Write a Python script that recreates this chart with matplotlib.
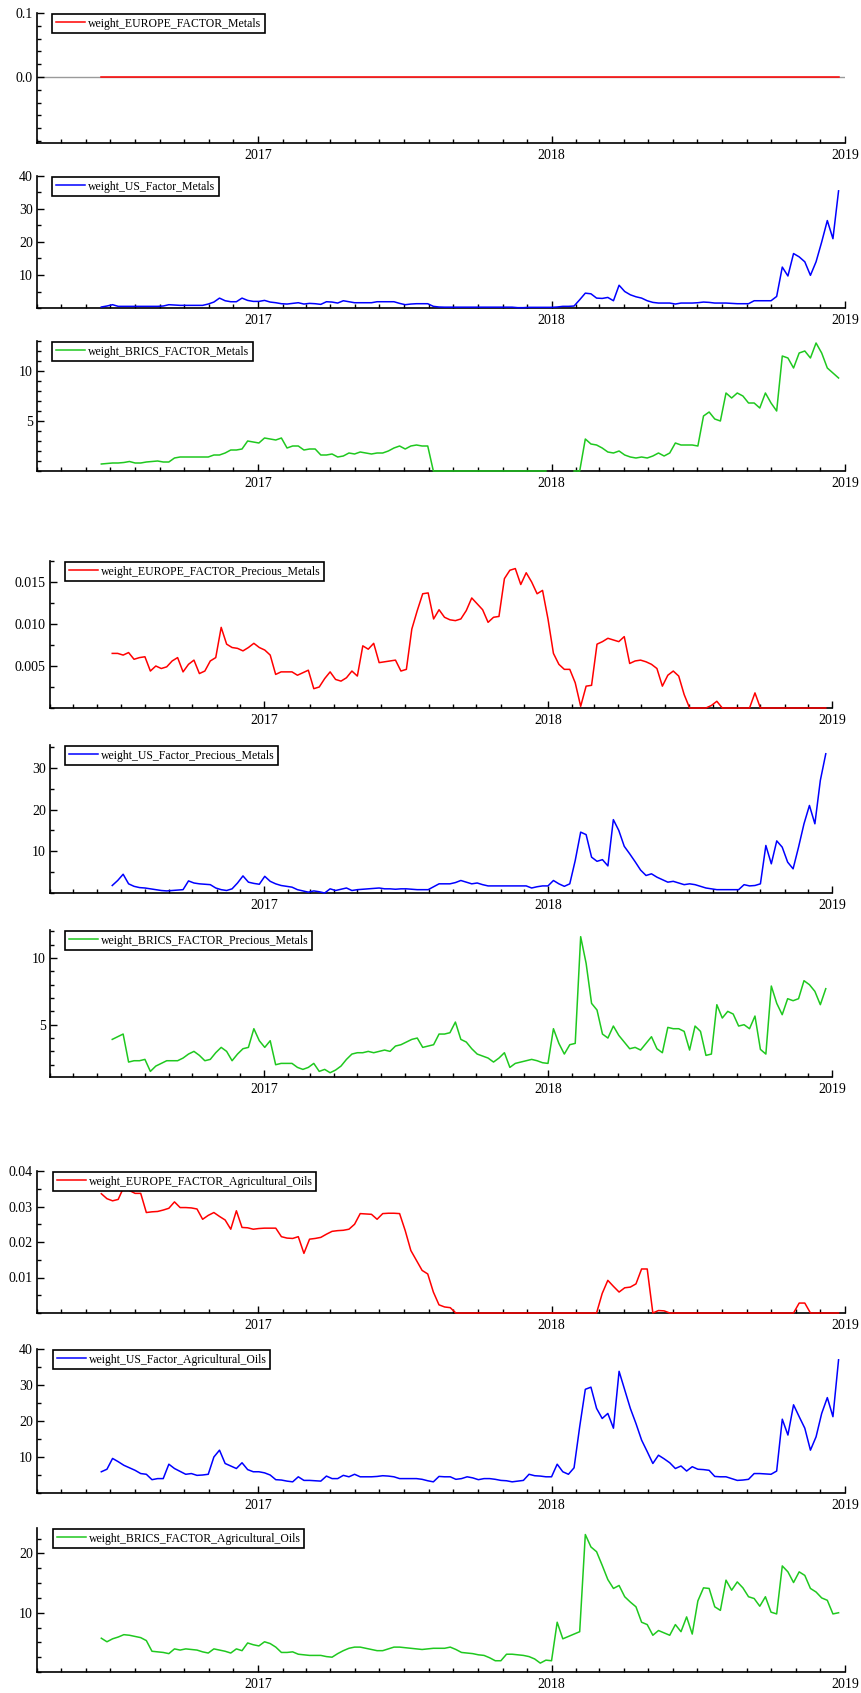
import numpy as np
import pandas as pd
import matplotlib
matplotlib.use("Agg")
import matplotlib.pyplot as plt
import matplotlib.dates as mdates
from matplotlib.ticker import MultipleLocator, FixedLocator, FormatStrFormatter

plt.rcParams['font.family'] = ['Liberation Serif', 'DejaVu Serif']

# ---------------- data (weekly) ----------------
START_DATE = '2016-06-20'
N_WEEKS = 132

weight_EUROPE_FACTOR_Metals = [0.0] * 132

weight_US_Factor_Metals = [
    0.3, 0.6, 1.0, 0.5, 0.5, 0.5, 0.5, 0.5, 0.5, 0.5,
    0.5, 0.6, 1.0, 0.9, 0.8, 0.8, 0.8, 0.8, 0.8, 1.2,
    1.8, 3.0, 2.2, 1.9, 1.9, 3.0, 2.3, 2.0, 2.0, 2.3,
    1.8, 1.6, 1.3, 1.2, 1.4, 1.6, 1.2, 1.4, 1.3, 1.1,
    1.9, 1.8, 1.5, 2.2, 1.9, 1.6, 1.6, 1.6, 1.6, 1.9,
    1.9, 1.9, 1.9, 1.4, 1.0, 1.2, 1.3, 1.3, 1.3, 0.5,
    0.3, 0.25, 0.25, 0.25, 0.25, 0.25, 0.25, 0.25, 0.25, 0.25,
    0.25, 0.25, 0.25, 0.25, 0.1, 0.1, 0.2, 0.2, 0.2, 0.2,
    0.2, 0.3, 0.5, 0.5, 0.6, 2.5, 4.5, 4.3, 3.0, 2.9,
    3.2, 2.2, 6.9, 5.0, 4.0, 3.4, 3.0, 2.2, 1.7, 1.5,
    1.5, 1.5, 1.2, 1.5, 1.5, 1.5, 1.6, 1.8, 1.7, 1.5,
    1.5, 1.5, 1.4, 1.3, 1.3, 1.3, 2.2, 2.2, 2.2, 2.2,
    3.5, 12.4, 9.7, 16.5, 15.5, 14.0, 9.9, 14.0, 20.0, 26.5,
    21.0, 35.5,
]

weight_BRICS_FACTOR_Metals = [
    0.7, 0.75, 0.8, 0.8, 0.85, 0.95, 0.8, 0.8, 0.9, 0.95,
    1.0, 0.9, 0.9, 1.3, 1.4, 1.4, 1.4, 1.4, 1.4, 1.4,
    1.6, 1.6, 1.8, 2.1, 2.1, 2.2, 3.0, 2.9, 2.8, 3.3,
    3.2, 3.1, 3.3, 2.3, 2.5, 2.5, 2.1, 2.2, 2.2, 1.6,
    1.6, 1.7, 1.4, 1.5, 1.8, 1.7, 1.9, 1.8, 1.7, 1.8,
    1.8, 2.0, 2.3, 2.5, 2.2, 2.5, 2.6, 2.5, 2.5,
] + [0.0] * 21 + [np.nan] * 4 + [
    0.0, 0.0, 3.2, 2.7, 2.6, 2.3, 1.9, 1.8, 2.0, 1.6,
    1.4, 1.3, 1.4, 1.3, 1.5, 1.8, 1.5, 1.8, 2.8, 2.6,
    2.6, 2.6, 2.5, 5.5, 5.9, 5.2, 5.0, 7.8, 7.3, 7.8,
    7.5, 6.8, 6.8, 6.3, 7.8, 6.8, 6.0, 11.5, 11.3, 10.3,
    11.8, 12.0, 11.3, 12.8, 11.8, 10.3, 9.8, 9.3,
]

weight_EUROPE_FACTOR_Precious_Metals = [
    0.0065, 0.0065, 0.0063, 0.0066, 0.0058, 0.0060, 0.0061, 0.0044, 0.0050, 0.0047,
    0.0049, 0.0056, 0.0060, 0.0043, 0.0052, 0.0057, 0.0041, 0.0044, 0.0056, 0.0060,
    0.0096, 0.0076, 0.0072, 0.0071, 0.0068, 0.0072, 0.0077, 0.0072, 0.0069, 0.0063,
    0.0040, 0.0043, 0.0043, 0.0043, 0.0039, 0.0042, 0.0045, 0.0023, 0.0025, 0.0035,
    0.0043, 0.0034, 0.0032, 0.0036, 0.0044, 0.0038, 0.0074, 0.0070, 0.0077, 0.0054,
    0.0055, 0.0056, 0.0057, 0.0044, 0.0046, 0.0094, 0.0116, 0.0136, 0.0137, 0.0106,
    0.0117, 0.0108, 0.0105, 0.0104, 0.0106, 0.0116, 0.0131, 0.0124, 0.0117, 0.0102,
    0.0108, 0.0109, 0.0154, 0.0164, 0.0166, 0.0147, 0.0161, 0.0150, 0.0136, 0.0140,
    0.0106, 0.0065, 0.0052, 0.0046, 0.0046, 0.0030, 0.0002, 0.0026, 0.0027, 0.0076,
    0.0079, 0.0083, 0.0081, 0.0079, 0.0085, 0.0053, 0.0056, 0.0057, 0.0055, 0.0052,
    0.0047, 0.0026, 0.0039, 0.0044, 0.0038, 0.0016, 0.0, 0.0, 0.0, 0.0,
    0.0003, 0.0008, 0.0, 0.0, 0.0, 0.0, 0.0, 0.0, 0.0018, 0.0,
    0.0, 0.0, 0.0, 0.0, 0.0, 0.0, 0.0, 0.0, 0.0, 0.0,
    0.0, 0.0,
]

weight_US_Factor_Precious_Metals = [
    1.8, 3.0, 4.5, 2.2, 1.6, 1.3, 1.2, 1.0, 0.8, 0.6,
    0.5, 0.6, 0.7, 0.8, 2.9, 2.4, 2.2, 2.1, 2.0, 1.2,
    0.8, 0.6, 1.0, 2.4, 4.1, 2.6, 2.3, 2.1, 4.0, 2.8,
    2.2, 1.8, 1.6, 1.4, 0.8, 0.5, 0.2, 0.5, 0.3, 0.0,
    1.0, 0.6, 0.9, 1.2, 0.6, 0.8, 0.9, 1.0, 1.1, 1.2,
    1.0, 1.0, 0.9, 1.0, 1.0, 0.9, 0.8, 0.8, 0.8, 1.5,
    2.2, 2.2, 2.2, 2.5, 3.0, 2.6, 2.2, 2.4, 2.0, 1.7,
    1.7, 1.7, 1.7, 1.7, 1.7, 1.7, 1.7, 1.2, 1.5, 1.7,
    1.7, 3.0, 2.2, 1.6, 2.2, 7.8, 14.6, 14.0, 8.6, 7.6,
    8.0, 6.5, 17.6, 15.0, 11.2, 9.4, 7.5, 5.5, 4.2, 4.6,
    3.8, 3.2, 2.6, 2.8, 2.4, 2.0, 2.2, 2.0, 1.6, 1.2,
    1.0, 0.8, 0.8, 0.8, 0.8, 0.8, 2.0, 1.7, 1.8, 2.2,
    11.4, 7.0, 12.5, 11.0, 7.4, 5.8, 11.0, 16.6, 21.0, 16.6,
    27.0, 33.4,
]

weight_BRICS_FACTOR_Precious_Metals = [
    3.9, 4.1, 4.3, 2.2, 2.3, 2.3, 2.4, 1.5, 1.9, 2.1,
    2.3, 2.3, 2.3, 2.5, 2.8, 3.0, 2.7, 2.3, 2.4, 2.9,
    3.3, 3.0, 2.3, 2.8, 3.2, 3.3, 4.7, 3.8, 3.3, 3.8,
    2.0, 2.1, 2.1, 2.1, 1.8, 1.65, 1.8, 2.1, 1.5, 1.65,
    1.4, 1.6, 1.9, 2.4, 2.8, 2.9, 2.9, 3.0, 2.9, 3.0,
    3.1, 3.0, 3.4, 3.5, 3.7, 3.9, 4.0, 3.3, 3.4, 3.5,
    4.3, 4.3, 4.4, 5.2, 3.9, 3.7, 3.2, 2.8, 2.65, 2.5,
    2.2, 2.5, 2.9, 1.8, 2.1, 2.2, 2.3, 2.4, 2.3, 2.15,
    2.1, 4.7, 3.6, 2.8, 3.5, 3.6, 11.6, 9.6, 6.6, 6.1,
    4.3, 4.0, 4.9, 4.2, 3.7, 3.2, 3.3, 3.1, 3.6, 4.1,
    3.2, 2.9, 4.8, 4.7, 4.7, 4.5, 3.1, 4.9, 4.5, 2.7,
    2.8, 6.5, 5.5, 6.0, 5.8, 4.9, 5.0, 4.7, 5.65, 3.15,
    2.8, 7.9, 6.6, 5.75, 6.95, 6.8, 6.95, 8.3, 8.0, 7.5,
    6.5, 7.7,
]

weight_EUROPE_FACTOR_Agricultural_Oils = [
    0.0336, 0.0322, 0.0316, 0.0320, 0.0355, 0.0345, 0.0337, 0.0337, 0.0283, 0.0285,
    0.0286, 0.0290, 0.0295, 0.0313, 0.0297, 0.0297, 0.0296, 0.0293, 0.0264, 0.0275,
    0.0283, 0.0272, 0.0262, 0.0236, 0.0288, 0.0241, 0.0240, 0.0236, 0.0238, 0.0239,
    0.0239, 0.0239, 0.0215, 0.0211, 0.0210, 0.0215, 0.0168, 0.0208, 0.0210, 0.0213,
    0.0222, 0.0230, 0.0232, 0.0233, 0.0236, 0.0250, 0.0280, 0.0279, 0.0278, 0.0264,
    0.0280, 0.0281, 0.0281, 0.0280, 0.0232, 0.0176, 0.0148, 0.0120, 0.0110, 0.0059,
    0.0023, 0.0017, 0.0015, 0.0,
] + [0.0] * 25 + [
    0.0055, 0.0092, 0.0075, 0.0059, 0.0071, 0.0073, 0.0082, 0.0124, 0.0124, 0.0,
    0.0007, 0.0006,
] + [0.0] * 23 + [0.0028, 0.0028] + [0.0] * 6

weight_US_Factor_Agricultural_Oils = [
    5.9, 6.6, 9.6, 8.7, 7.7, 7.0, 6.3, 5.4, 5.2, 3.7,
    4.0, 4.0, 8.0, 6.8, 6.0, 5.2, 5.4, 4.9, 5.0, 5.2,
    10.0, 11.9, 8.2, 7.5, 6.8, 8.4, 6.5, 5.9, 5.9, 5.6,
    5.0, 3.7, 3.6, 3.3, 3.1, 4.5, 3.5, 3.5, 3.4, 3.3,
    4.7, 4.0, 4.0, 4.9, 4.5, 5.2, 4.5, 4.5, 4.5, 4.6,
    4.8, 4.7, 4.5, 4.0, 4.0, 4.0, 4.0, 3.8, 3.4, 3.1,
    4.6, 4.5, 4.5, 3.8, 4.0, 4.5, 4.2, 3.7, 4.0, 4.0,
    3.8, 3.5, 3.4, 3.1, 3.3, 3.5, 5.2, 4.8, 4.7, 4.5,
    4.5, 8.0, 5.9, 5.2, 7.0, 18.4, 28.8, 29.4, 23.5, 20.7,
    22.1, 18.0, 33.8, 28.7, 23.5, 19.3, 14.7, 11.5, 8.2, 10.5,
    9.5, 8.4, 6.8, 7.5, 6.1, 7.3, 6.6, 6.5, 6.3, 4.6,
    4.5, 4.5, 4.0, 3.5, 3.6, 3.8, 5.4, 5.4, 5.3, 5.2,
    6.1, 20.5, 16.1, 24.5, 21.2, 18.0, 11.9, 15.6, 22.1, 26.5,
    21.2, 37.0,
]

weight_BRICS_FACTOR_Agricultural_Oils = [
    5.7, 5.1, 5.6, 5.9, 6.3, 6.2, 6.0, 5.8, 5.3, 3.5,
    3.4, 3.3, 3.1, 3.9, 3.7, 3.9, 3.8, 3.7, 3.4, 3.2,
    3.9, 3.7, 3.5, 3.2, 3.9, 3.6, 4.9, 4.6, 4.4, 5.1,
    4.8, 4.2, 3.3, 3.3, 3.4, 3.0, 2.9, 2.8, 2.8, 2.8,
    2.6, 2.5, 3.1, 3.6, 4.0, 4.2, 4.2, 4.0, 3.8, 3.6,
    3.6, 3.9, 4.2, 4.2, 4.1, 4.0, 3.9, 3.8, 3.9, 4.0,
    4.0, 4.0, 4.2, 3.8, 3.3, 3.2, 3.1, 2.9, 2.8, 2.4,
    1.9, 1.9, 3.0, 3.0, 2.9, 2.8, 2.6, 2.2, 1.5, 2.0,
    1.9, 8.4, 5.6, 6.0, 6.4, 6.8, 23.2, 21.1, 20.3, 18.0,
    15.6, 14.1, 14.6, 12.7, 11.8, 11.0, 8.4, 8.0, 6.2, 7.0,
    6.6, 6.2, 8.0, 6.8, 9.3, 6.4, 12.0, 14.2, 14.1, 11.0,
    10.4, 15.5, 13.8, 15.2, 14.2, 12.7, 12.4, 11.1, 12.7, 10.1,
    9.8, 17.9, 16.9, 15.1, 16.9, 16.3, 14.1, 13.5, 12.5, 12.1,
    9.8, 10.0,
]

series_names = [
    'weight_EUROPE_FACTOR_Metals', 'weight_US_Factor_Metals', 'weight_BRICS_FACTOR_Metals',
    'weight_EUROPE_FACTOR_Precious_Metals', 'weight_US_Factor_Precious_Metals',
    'weight_BRICS_FACTOR_Precious_Metals',
    'weight_EUROPE_FACTOR_Agricultural_Oils', 'weight_US_Factor_Agricultural_Oils',
    'weight_BRICS_FACTOR_Agricultural_Oils',
]
series_values = [
    weight_EUROPE_FACTOR_Metals, weight_US_Factor_Metals, weight_BRICS_FACTOR_Metals,
    weight_EUROPE_FACTOR_Precious_Metals, weight_US_Factor_Precious_Metals,
    weight_BRICS_FACTOR_Precious_Metals,
    weight_EUROPE_FACTOR_Agricultural_Oils, weight_US_Factor_Agricultural_Oils,
    weight_BRICS_FACTOR_Agricultural_Oils,
]

# ---------------- layout / style ----------------
W, H = 862, 1693
RED, BLUE, GREEN = '#ff0000', '#0000ff', '#1fc81f'
colors = [RED, BLUE, GREEN] * 3

# pixel boxes: left, right, top, bottom
boxes = [
    (37, 845, 13, 143), (37, 845, 176, 308), (37, 845, 341, 471),
    (50, 832, 561, 708), (50, 832, 745, 893), (50, 832, 930, 1077),
    (37, 845, 1171, 1313), (37, 845, 1349, 1493), (37, 845, 1528, 1672),
]
# ylim, major ticks, minor step, tick format
yspecs = [
    ((-0.103, 0.1), [0.0, 0.1], 0.02, '%.1f'),
    ((0, 40), [10, 20, 30, 40], 5, '%g'),
    ((0, 13), [5, 10], 1, '%g'),
    ((0, 0.0175), [0.005, 0.010, 0.015], 0.0025, '%.3f'),
    ((0, 35.5), [10, 20, 30], 5, '%g'),
    ((1.08, 12.1), [5, 10], 1, '%g'),
    ((0, 0.04), [0.01, 0.02, 0.03, 0.04], 0.005, '%.2f'),
    ((0, 40), [10, 20, 30, 40], 5, '%g'),
    ((0, 24.3), [10, 20], 2.5, '%g'),
]
legend_offsets = [15, 15, 15, 15, 15, 15, 16, 16, 16]

fig = plt.figure(figsize=(W / 100, H / 100), dpi=100, facecolor='white')

for k, (name, vals) in enumerate(zip(series_names, series_values)):
    l, r, t, b = boxes[k]
    ax = fig.add_axes([l / W, 1 - b / H, (r - l) / W, (b - t) / H])
    dates = pd.date_range(START_DATE, periods=len(vals), freq='7D')
    ax.axhline(0, color='#9a9a9a', lw=1.0, zorder=1)
    ax.plot(dates, np.array(vals, dtype=float), color=colors[k], lw=1.1,
            label=name, zorder=3, clip_on=False)

    ax.set_xlim(pd.Timestamp('2016-04-01'), pd.Timestamp('2019-01-01'))
    ax.xaxis.set_major_locator(mdates.YearLocator())
    ax.xaxis.set_major_formatter(mdates.DateFormatter('%Y'))
    ax.xaxis.set_minor_locator(mdates.MonthLocator())

    ylim, majors, minor_step, fmt = yspecs[k]
    ax.set_ylim(*ylim)
    ax.yaxis.set_major_locator(FixedLocator(majors))
    ax.yaxis.set_major_formatter(FormatStrFormatter(fmt))
    ax.yaxis.set_minor_locator(MultipleLocator(minor_step))

    for s in ['top', 'right']:
        ax.spines[s].set_visible(False)
    for s in ['left', 'bottom']:
        ax.spines[s].set_linewidth(1.2)
        ax.spines[s].set_color('black')
        ax.spines[s].set_zorder(2)

    ax.tick_params(axis='both', which='major', direction='in', length=5, width=1.0,
                   labelsize=10, colors='black')
    ax.tick_params(axis='both', which='minor', direction='in', length=2.8, width=1.0)
    ax.tick_params(axis='x', which='major', pad=4.5)
    ax.tick_params(axis='y', which='major', pad=3)

    pw, ph = (r - l), (b - t)
    leg = ax.legend(loc='upper left',
                    bbox_to_anchor=(legend_offsets[k] / pw, 1 - 1 / ph),
                    borderaxespad=0, frameon=True, fancybox=False, shadow=False,
                    fontsize=8.5, handlelength=2.5, handletextpad=0.25,
                    borderpad=0.3, framealpha=1)
    leg.get_frame().set_edgecolor('black')
    leg.get_frame().set_linewidth(1.2)
    ax.set_facecolor('white')

fig.savefig('out.png', dpi=100, facecolor='white')
